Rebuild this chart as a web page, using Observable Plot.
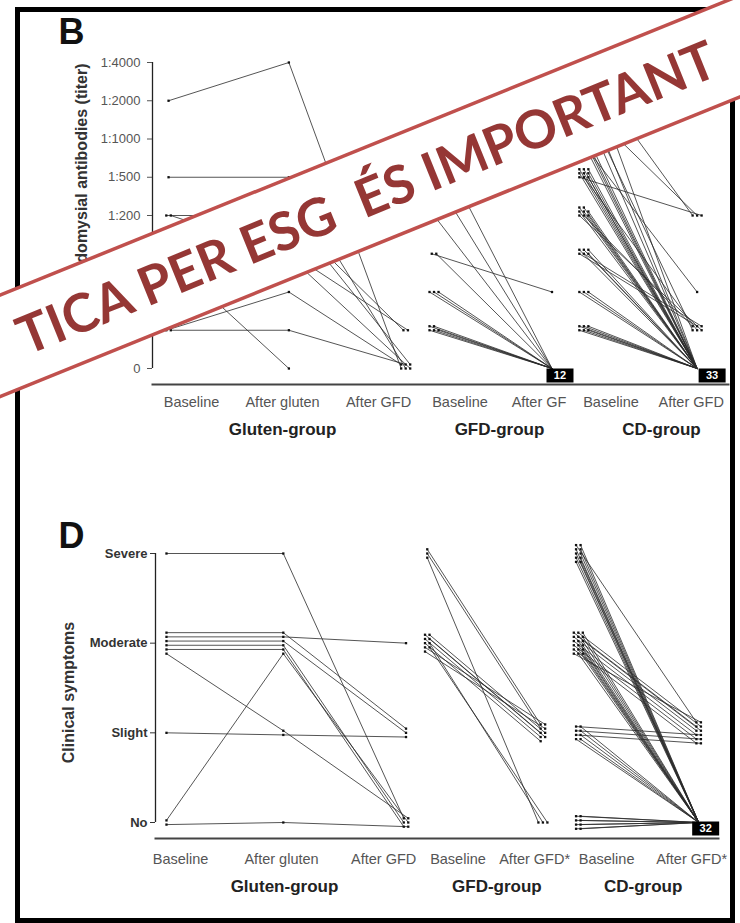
<!DOCTYPE html>
<html><head><meta charset="utf-8">
<script src="https://cdn.jsdelivr.net/npm/d3@7"></script>
<script src="https://cdn.jsdelivr.net/npm/@observablehq/plot@0.6"></script>
<style>
html,body{margin:0;padding:0;background:#fff;}
#page{position:relative;width:740px;height:923px;overflow:hidden;background:#fff;font-family:"Liberation Sans",Arial,sans-serif;}
#border{position:absolute;left:15px;top:7px;width:720px;height:916px;box-sizing:border-box;border:5px solid #000;pointer-events:none;}
.panel{position:absolute;left:0;}
#wm{position:absolute;left:0;top:0;}
</style></head><body>
<div id="page">
  <div id="panelB" class="panel" style="top:0px"></div>
  <div id="panelD" class="panel" style="top:470px"></div>
  <div id="border"></div>
  <svg id="wm" width="740" height="923">
    <g transform="translate(370,196) rotate(-22.05)">
      <rect x="-700" y="-47" width="1400" height="94" fill="#ffffff"/>
      <line x1="-700" x2="700" y1="-47" y2="-47" stroke="#c0504d" stroke-width="3.5"/>
      <line x1="-700" x2="700" y1="47" y2="47" stroke="#c0504d" stroke-width="3.5"/>
      <text x="-4" y="19" text-anchor="middle" font-family="Lato, 'Open Sans', sans-serif" font-weight="700" font-size="53" fill="#953735" style="white-space:pre">TICA PER ESG  ÉS IMPORTANT</text>
    </g>
  </svg>
</div>
<script>
// ---------- data ----------
const titerLevels = ["0", "1:5", "1:50", "1:100", "1:200", "1:500", "1:1000", "1:2000", "1:4000"];
const symptomLevels = ["No", "Slight", "Moderate", "Severe"];
const groupNames = ["Gluten-group", "GFD-group", "CD-group"];
const columnLabelsB = [["Baseline", "After gluten", "After GFD"], ["Baseline", "After GF"], ["Baseline", "After GFD"]];
const columnLabelsD = [["Baseline", "After gluten", "After GFD"], ["Baseline", "After GFD*"], ["Baseline", "After GFD*"]];

// Panel B: endomysial antibody titer (index into titerLevels) per patient, per time point
const emaGluten = [[7, 8, 0], [5, 5, 0], [4, 4, 1], [4, 3, 0], [3, 0, null], [3, 3, 1], [1, 2, 0], [1, 1, 0], [3, 4, 0]];
const emaGFD = [[6, 0], [5, 0], [4, 0], [3, 2], [3, 0], [2, 0], [2, 0], [2, 0], [1, 0], [1, 0], [1, 0], [1, 0], [1, 0]];
const emaCD = [
  [8, 4], [8, 0],
  [7, 4], [7, 1], [7, 0], [7, 0],
  [6, 2], [6, 0], [6, 0], [6, 0], [6, 0],
  [5, 4], [5, 1], [5, 0], [5, 0], [5, 0], [5, 0], [5, 0], [5, 0], [5, 0],
  [4, 1], [4, 1], [4, 0], [4, 0], [4, 0], [4, 0], [4, 0], [4, 0],
  [3, 1], [3, 1], [3, 0], [3, 0], [3, 0], [3, 0],
  [2, 0], [2, 0], [2, 0],
  [1, 0], [1, 0], [1, 0], [1, 0], [1, 0], [1, 0]
];

// Panel D: clinical symptoms (index into symptomLevels) per patient, per time point
const symGluten = [[3, 3, 0], [2, 2, 1], [2, 2, 2], [2, 2, 1], [2, 2, 0], [2, 2, 0], [2, 1, 0], [0, 2, 0], [1, 1, 1], [0, 0, 0]];
const symGFD = [[3, 1], [3, 1], [3, 0], [2, 1], [2, 1], [2, 1], [2, 1], [2, 1], [2, 1], [2, 1], [2, 0], [2, 0]];
const symCD = [
  [3, 1], [3, 0], [3, 0], [3, 0], [3, 0], [3, 0], [3, 0], [3, 0], [3, 0], [3, 0],
  [2, 1], [2, 1], [2, 1], [2, 1], [2, 1], [2, 1], [2, 1], [2, 1],
  [2, 0], [2, 0], [2, 0], [2, 0], [2, 0], [2, 0], [2, 0], [2, 0], [2, 0], [2, 0],
  [1, 1], [1, 1], [1, 1],
  [1, 0], [1, 0], [1, 0], [1, 0], [1, 0],
  [0, 0], [0, 0], [0, 0], [0, 0], [0, 0], [0, 0], [0, 0], [0, 0]
];

// ---------- layout (not data) ----------
const layoutB = {
  el: "#panelB", letter: "B", yTitle: "Endomysial antibodies (titer)",
  groupsData: [emaGluten, emaGFD, emaCD], levels: titerLevels, colLabels: columnLabelsB,
  height: 445, marginLeft: 152, marginRight: 12, marginTop: 62, marginBottom: 61, insetBottom: 16,
  xDomain: [-0.136, 4.746],
  colSlots: [[0, 1.02, 2.01], [2.25, 3.25], [3.52, 4.48]],
  labelSlots: [[0.195, 0.966, 1.78], [2.47, 3.14], [3.75, 4.43]],
  groupSlots: [0.966, 2.805, 4.178],
  pack: "row", gapX: 4.5, gapY: 4,
  badgeShift: {1: [8, 7], 2: [15, 7]},
  tickPadding: 7, tickFontWeight: "normal", tickColor: "#555", tickFont: 13,
  labelPad: 12, groupDy: 38,
  letterDx: -94, letterDy: -19,
  titleFrameAnchor: "top-left", titleDx: -77, titleDy: 1, titleAnchor: "end"
};
const layoutD = {
  el: "#panelD", letter: "D", yTitle: "Clinical symptoms",
  groupsData: [symGluten, symGFD, symCD], levels: symptomLevels, colLabels: columnLabelsD,
  height: 453, marginLeft: 155, marginRight: 22, marginTop: 83, marginBottom: 85, insetBottom: 16,
  xDomain: [-0.093, 4.678],
  colSlots: [[0, 0.99, 2.03], [2.21, 3.19], [3.49, 4.51]],
  labelSlots: [[0.119, 0.975, 1.84], [2.47, 3.12], [3.73, 4.45]],
  groupSlots: [1.0, 2.8, 4.04],
  pack: "col", gapX: 4.5, gapY: 4.2,
  badgeShift: {2: [7, 6]},
  tickPadding: 3, tickFontWeight: "bold", tickColor: "#333", tickFont: 13,
  labelPad: 15, groupDy: 41,
  letterDx: -97, letterDy: -6,
  titleFrameAnchor: "left", titleDx: -87, titleDy: -3.5, titleAnchor: "middle"
};

const badgeSymbol = {draw(ctx) { ctx.rect(-13.5, -7, 27, 14); }};

function makePanel(cfg) {
  const W = 740;
  const nLev = cfg.levels.length;
  const xUnit = (cfg.xDomain[1] - cfg.xDomain[0]) / (W - cfg.marginLeft - cfg.marginRight);
  const yUnit = (nLev - 1) / (cfg.height - cfg.marginTop - cfg.marginBottom - cfg.insetBottom);

  const rows = [];
  cfg.groupsData.forEach((patients, g) => patients.forEach((vals, p) => vals.forEach((v, c) => {
    if (v == null) return;
    rows.push({id: g + "-" + p, g, c, last: c === vals.length - 1, level: v, slot: cfg.colSlots[g][c]});
  })));

  const badges = [];
  const clusters = d3.group(rows, d => d.g + "|" + d.c + "|" + d.level);
  for (const [, members] of clusters) {
    const n = members.length, m0 = members[0];
    if (m0.level === 0 && n >= 10) {
      members.forEach(d => { d.x = d.slot; d.y = d.level; d.hidden = true; });
      const sh = cfg.badgeShift[m0.g] || [0, 0];
      badges.push({x: m0.slot + sh[0] * xUnit, y: -sh[1] * yUnit, n});
      continue;
    }
    let cols, rowsN;
    if (cfg.pack === "row") {
      cols = Math.min(n, 3); rowsN = Math.ceil(n / cols);
    } else {
      if (m0.last && n <= 3) cols = m0.level === 0 ? n : 1;
      else if (m0.last) cols = Math.max(2, Math.ceil(n / 6));
      else cols = Math.ceil(n / 6);
      rowsN = Math.ceil(n / cols);
    }
    members.forEach((d, i) => {
      let col, row, dyPx;
      if (cfg.pack === "row") {
        col = i % cols; row = Math.floor(i / cols);
        dyPx = -row * cfg.gapY;
      } else {
        col = Math.floor(i / rowsN); row = i % rowsN;
        dyPx = (row - (rowsN - 1) / 2) * cfg.gapY;
      }
      const dxPx = (col - (cols - 1) / 2) * cfg.gapX;
      d.x = d.slot + dxPx * xUnit;
      d.y = d.level - dyPx * yUnit;
    });
  }

  const labelMap = new Map();
  cfg.labelSlots.forEach((arr, g) => arr.forEach((s, c) => labelMap.set(s, cfg.colLabels[g][c])));

  const chart = Plot.plot({
    width: W, height: cfg.height,
    marginLeft: cfg.marginLeft, marginRight: cfg.marginRight,
    marginTop: cfg.marginTop, marginBottom: cfg.marginBottom,
    insetBottom: cfg.insetBottom,
    style: {fontFamily: "'Liberation Sans', Arial, sans-serif", background: "transparent", overflow: "visible"},
    x: {domain: cfg.xDomain},
    y: {domain: [0, nLev - 1]},
    marks: [
      Plot.ruleX([cfg.xDomain[0]], {y1: 0, y2: nLev - 1, stroke: "#222", strokeWidth: 1.3}),
      Plot.frame({anchor: "bottom", stroke: "#444", strokeWidth: 2}),
      Plot.axisY({ticks: d3.range(nLev), tickFormat: i => cfg.levels[i], tickSize: 5, tickPadding: cfg.tickPadding,
        fontSize: cfg.tickFont, fontWeight: cfg.tickFontWeight, color: cfg.tickColor, label: null}),
      Plot.axisX({ticks: cfg.labelSlots.flat(), tickFormat: s => labelMap.get(s), tickSize: 0, tickPadding: cfg.labelPad,
        fontSize: 14.5, color: "#555", label: null}),
      Plot.text(groupNames, {x: (d, i) => cfg.groupSlots[i], text: d => d, frameAnchor: "bottom", lineAnchor: "top",
        dy: cfg.groupDy, fontSize: 17, fontWeight: "bold", fill: "#222"}),
      Plot.line(rows, {x: "x", y: "y", z: "id", stroke: "#2a2a2a", strokeWidth: 1, strokeOpacity: 0.8}),
      Plot.dot(rows.filter(d => !d.hidden), {x: "x", y: "y", symbol: "square", r: 1.3, fill: "#111"}),
      Plot.dot(badges, {x: "x", y: "y", symbol: badgeSymbol, fill: "#000", stroke: "none"}),
      Plot.text(badges, {x: "x", y: "y", text: d => String(d.n), fill: "#fff", fontSize: 11, fontWeight: "bold"}),
      Plot.text([cfg.letter], {frameAnchor: "top-left", dx: cfg.letterDx, dy: cfg.letterDy, textAnchor: "start",
        lineAnchor: "bottom", fontSize: 36, fontWeight: "bold", fill: "#111"}),
      Plot.text([cfg.yTitle], {frameAnchor: cfg.titleFrameAnchor, dx: cfg.titleDx, dy: cfg.titleDy, rotate: -90,
        textAnchor: cfg.titleAnchor, fontSize: 16, fontWeight: "bold", fill: "#333"})
    ]
  });
  document.querySelector(cfg.el).appendChild(chart);
}

makePanel(layoutB);
makePanel(layoutD);
</script>
</body></html>
